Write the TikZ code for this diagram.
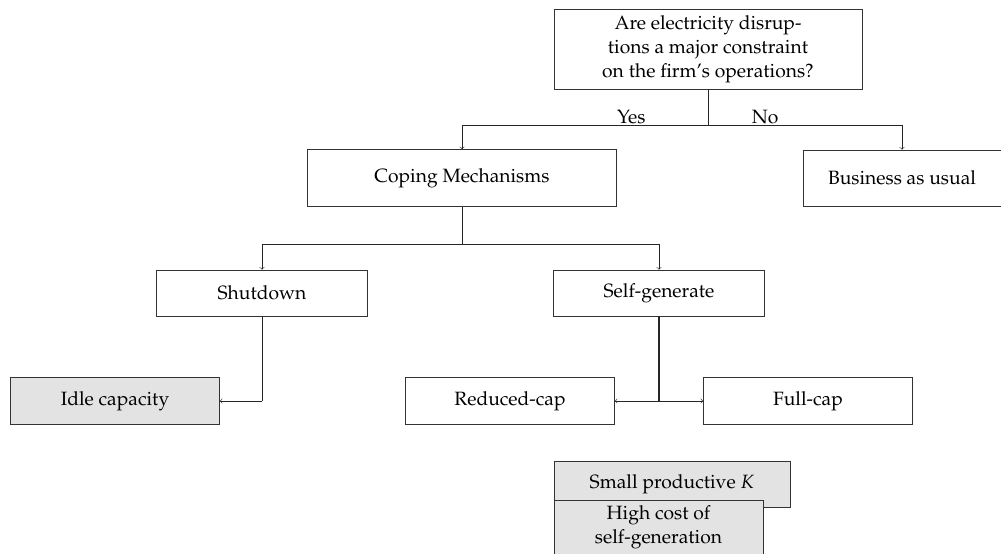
\documentclass[tikz,border=0pt]{standalone}
\usepackage[T1]{fontenc}
\usepackage{mathpazo}
\usetikzlibrary{positioning,calc}

\begin{document}
\begin{tikzpicture}[auto, font=\fontsize{13.7}{17}\selectfont,
    box/.style={rectangle, draw=black!80, line width=0.4pt, fill=white, text centered, inner sep=2pt},
    grey/.style={box, fill=black!11},
    link/.style={draw=black!85, line width=0.4pt},
    arr/.style={link, ->, >=to}]
    \useasboundingbox (0,0) rectangle (25.025,-13.825);

    \node[box, minimum width=7.7cm, minimum height=2cm, align=center] (q) at (17.7,-1.225)
        {Are electricity disrup-\\tions a major constraint\\on the firm's operations?};
    \node[box, minimum width=7.725cm, minimum height=1.425cm] (cope) at (11.55,-4.45) {Coping Mechanisms};
    \node[box, minimum width=4.95cm, minimum height=1.4cm] (bau) at (22.55,-4.45) {Business as usual};

    \node[box, minimum width=5.275cm, minimum height=1.15cm] (shut) at (6.55,-7.325) {Shutdown};
    \node[box, minimum width=5.275cm, minimum height=1.15cm] (selfgen) at (16.475,-7.325) {Self-generate};

    \node[grey, minimum width=5.225cm, minimum height=1.175cm] (idle) at (2.875,-10.025) {Idle capacity};
    \node[box, minimum width=5.225cm, minimum height=1.175cm] (red) at (12.75,-10.025) {Reduced-cap};
    \node[box, minimum width=5.225cm, minimum height=1.175cm] (full) at (20.2,-10.025) {Full-cap};

    \node[grey, minimum width=5.9cm, minimum height=1.15cm] (small) at (16.8,-12.1) {Small productive $K$};
    \node[grey, minimum width=5.225cm, minimum height=1.35cm, align=center] (high) at (16.4625,-13.175)
        {High cost of\\self-generation};

    % forks
    \coordinate (qfork) at ($(q.south)+(0,-0.9)$);
    \coordinate (cfork) at ($(cope.south)+(0,-0.925)$);
    \coordinate (sfork) at (shut.south |- idle.east);
    \coordinate (gfork) at (selfgen.south |- red.east);

    \draw[link] (q.south) -- (qfork);
    \draw[arr] (qfork) -| node[pos=0.156, above, inner sep=1pt] {Yes} (cope.north);
    \draw[arr] (qfork) -| node[pos=0.147, above, inner sep=1pt] {No} (bau.north);

    \draw[link] (cope.south) -- (cfork);
    \draw[arr] (cfork) -| (shut.north);
    \draw[arr] (cfork) -| (selfgen.north);

    \draw[link] (shut.south) -- (sfork);
    \draw[arr] (sfork) -- (idle.east);

    \draw[link, line width=0.8pt] (selfgen.south) -- (gfork);
    \draw[arr] (gfork) -- (red.east);
    \draw[arr] (gfork) -- (full.west);
\end{tikzpicture}
\end{document}
